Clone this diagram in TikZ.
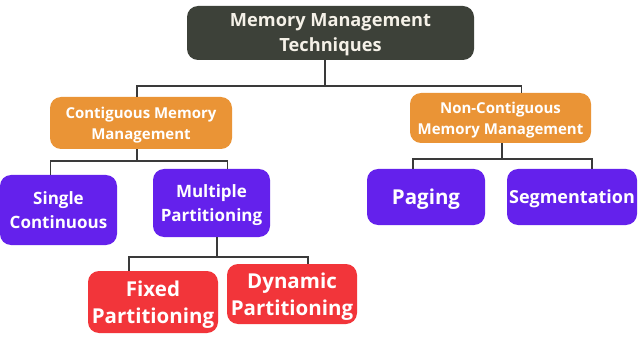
\documentclass[tikz,border=0pt]{standalone}
\usepackage{fontspec}
\setmainfont{Open Sans}
\begin{document}
\begin{tikzpicture}[x=1pt,y=-1pt,
  box/.style={rounded corners=11pt, text=white, align=center, inner sep=2pt, font=\bfseries, text depth=0pt},
  rootbox/.style={box, fill=rootc, text=roott, font=\bfseries\fontsize{18.2}{25}\selectfont},
  orangebox/.style={box, fill=orangec, font=\bfseries\fontsize{15}{21}\selectfont},
  purplebox/.style={box, fill=purplec},
  redbox/.style={box, fill=redc, font=\bfseries\fontsize{20.5}{27}\selectfont},
  conn/.style={draw=connc, line width=1.5pt}]
\definecolor{rootc}{HTML}{3D4139}
\definecolor{roott}{HTML}{F5F1E8}
\definecolor{orangec}{HTML}{EA9436}
\definecolor{purplec}{HTML}{6421EC}
\definecolor{redc}{HTML}{F2353A}
\definecolor{connc}{HTML}{3A3A3A}
\useasboundingbox (0,0) rectangle (640,350);
\fill[white] (0,0) rectangle (640,350);

\node[rootbox, minimum width=287pt, minimum height=54pt] (root) at (330.5,33) {Memory Management\\Techniques};
\node[orangebox, minimum width=182pt, minimum height=52pt] (cont) at (141,123) {Contiguous Memory\\Management};
\node[orangebox, minimum width=181pt, minimum height=50pt] (nonc) at (500.5,118) {Non-Contiguous\\Memory Management};
\node[purplebox, minimum width=117pt, minimum height=70pt, font=\bfseries\fontsize{17}{24}\selectfont] (single) at (58.5,210) {Single\\Continuous};
\node[purplebox, minimum width=117pt, minimum height=68pt, font=\bfseries\fontsize{17}{24}\selectfont] (multi) at (211.5,203) {Multiple\\Partitioning};
\node[purplebox, minimum width=118pt, minimum height=56pt, font=\bfseries\fontsize{20.5}{24}\selectfont] (paging) at (426,197) {Paging};
\node[purplebox, minimum width=130pt, minimum height=56pt, font=\bfseries\fontsize{18}{24}\selectfont] (seg) at (572,197) {Segmentation};
\node[redbox, minimum width=130pt, minimum height=62pt] (fixed) at (153,302) {Fixed\\Partitioning};
\node[redbox, minimum width=130pt, minimum height=60pt] (dyn) at (292,294) {Dynamic\\Partitioning};

\coordinate (bus1) at (325,86);
\coordinate (bus2) at (137,161);
\coordinate (bus3) at (502,159);
\coordinate (bus4) at (217,257);

\draw[conn] (root.south -| bus1) -- (bus1);
\draw[conn] ([xshift=-4pt]cont.north) |- (bus1) -| ([xshift=21pt]nonc.north);
\draw[conn] (cont.south -| bus2) -- (bus2);
\draw[conn] ([xshift=-8pt]single.north) |- (bus2) -| ([xshift=16pt]multi.north);
\draw[conn] (nonc.south -| bus3) -- (bus3);
\draw[conn] ([xshift=-13pt]paging.north) |- (bus3) -| ([xshift=20pt]seg.north);
\draw[conn] (multi.south -| bus4) -- (bus4);
\draw[conn] ([xshift=-24pt]fixed.north) |- (bus4) -| ([xshift=16pt]dyn.north);
\end{tikzpicture}
\end{document}
